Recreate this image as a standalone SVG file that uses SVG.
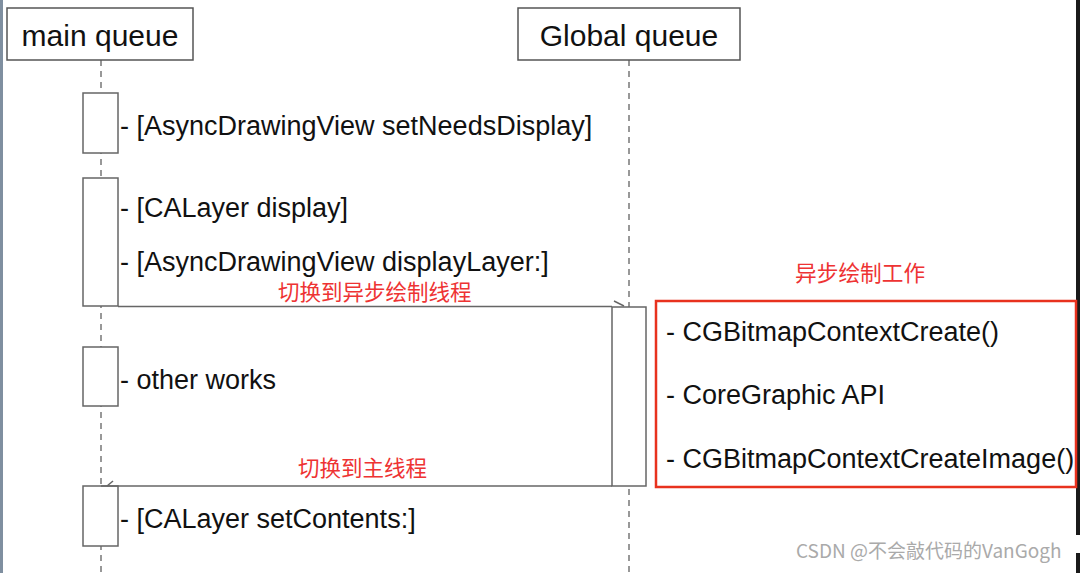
<svg xmlns="http://www.w3.org/2000/svg" width="1080" height="573" viewBox="0 0 1080 573">
<style>
.hdr{fill:#fff;stroke:#555;stroke-width:1.5}
.act{fill:#fff;stroke:#666;stroke-width:1.5}
.life{stroke:#777;stroke-width:1.5;stroke-dasharray:6,5;fill:none}
.msg{stroke:#666;stroke-width:1.5;fill:none}
.t{font-family:"Liberation Sans",Arial,sans-serif;font-size:27px;fill:#111}
.h{font-family:"Liberation Sans",Arial,sans-serif;font-size:30px;fill:#111;text-anchor:middle}
.cn{font-family:"Noto Sans CJK SC",sans-serif;font-size:21.5px;fill:#ee3333}
</style>
<rect width="1080" height="573" fill="#fff"/>
<rect x="0" y="0" width="3" height="573" fill="#7f8fa0"/>
<rect x="1076" y="0" width="4" height="535" fill="#1a1a1a"/>
<rect x="1076" y="553" width="4" height="20" fill="#1a1a1a"/>
<g id="lifelines">
<line class="life" x1="101" y1="60" x2="101" y2="573"/>
<line class="life" x1="629" y1="60" x2="629" y2="573"/>
</g>
<g id="main-queue"><rect class="hdr" x="7" y="8" width="186" height="52"/><text class="h" x="100" y="46">main queue</text></g>
<g id="global-queue"><rect class="hdr" x="518" y="8" width="222" height="52"/><text class="h" x="629" y="46">Global queue</text></g>
<g id="act1"><rect class="act" x="83" y="93" width="35" height="60"/><text class="t" x="120" y="135">- [AsyncDrawingView setNeedsDisplay]</text></g>
<g id="act2"><rect class="act" x="83" y="178" width="35" height="128"/><text class="t" x="120" y="217">- [CALayer display]</text><text class="t" x="120" y="271">- [AsyncDrawingView displayLayer:]</text></g>
<g id="act3"><rect class="act" x="83" y="347" width="35" height="59"/><text class="t" x="120" y="389">- other works</text></g>
<g id="act4"><rect class="act" x="83" y="486" width="35" height="60"/><text class="t" x="120" y="528">- [CALayer setContents:]</text></g>
<g id="global-act"><rect class="act" x="612" y="307" width="34" height="179"/></g>
<g id="connectors">
<line class="msg" x1="118" y1="306.5" x2="612" y2="306.5"/>
<path class="msg" d="M614,301 L624,306"/>
<text class="cn" x="278" y="300">切换到异步绘制线程</text>
<line class="msg" x1="101" y1="486" x2="612" y2="486"/>
<path class="msg" d="M107,486 L113,481"/>
<text class="cn" x="298" y="476">切换到主线程</text>
</g>
<g id="async-work">
<rect x="656" y="301" width="420" height="186" fill="none" stroke="#e8321e" stroke-width="2.5"/>
<text class="cn" x="795" y="281" style="font-size:21.7px">异步绘制工作</text>
<text class="t" x="666" y="341">- CGBitmapContextCreate()</text>
<text class="t" x="666" y="404">- CoreGraphic API</text>
<text class="t" x="666" y="468">- CGBitmapContextCreateImage()</text>
</g>
<text x="796" y="558" style="font-family:'Noto Sans CJK SC',sans-serif;font-size:19px;fill:#aaa">CSDN @不会敲代码的VanGogh</text>
</svg>
